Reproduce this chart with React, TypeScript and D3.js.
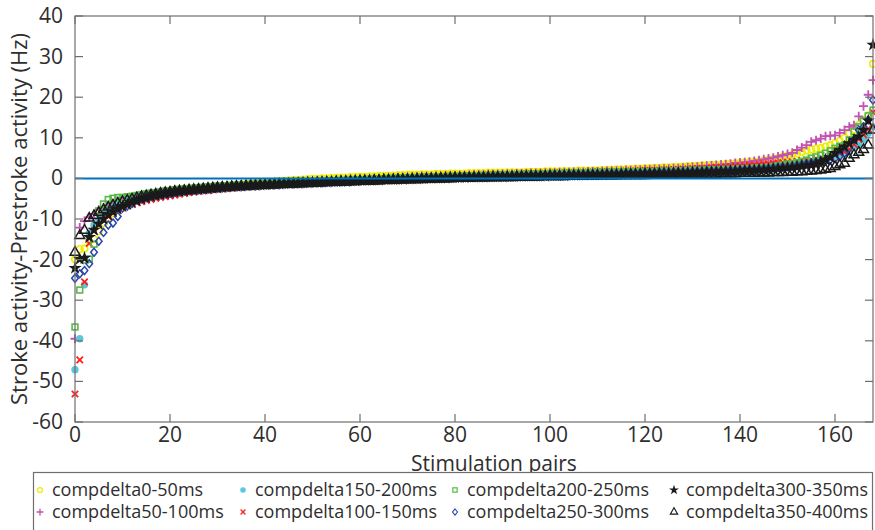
import React from 'react';
import * as d3 from 'd3';

// sorted differences per stimulation pair, one list per delay window
const y0_50 = [
  -19.9,-17.4,-17.3,-15.5,-14.9,-13.0,-11.0,-9.8,-8.6,-7.6,
  -6.9,-6.3,-5.8,-5.3,-4.9,-4.5,-4.2,-3.9,-3.6,-3.4,
  -3.2,-3.0,-2.9,-2.7,-2.6,-2.5,-2.4,-2.3,-2.2,-2.1,
  -2.0,-1.9,-1.8,-1.7,-1.6,-1.5,-1.4,-1.3,-1.2,-1.1,
  -1.0,-0.9,-0.8,-0.7,-0.6,-0.5,-0.4,-0.4,-0.3,-0.2,
  -0.1,-0.1,0.0,0.0,0.1,0.1,0.2,0.2,0.3,0.3,
  0.4,0.4,0.5,0.5,0.6,0.6,0.7,0.7,0.8,0.8,
  0.9,0.9,0.9,1.0,1.0,1.0,1.1,1.1,1.1,1.2,
  1.2,1.2,1.2,1.3,1.3,1.3,1.3,1.4,1.4,1.4,
  1.4,1.5,1.5,1.5,1.5,1.6,1.6,1.6,1.6,1.7,
  1.7,1.7,1.7,1.8,1.8,1.8,1.9,1.9,1.9,2.0,
  2.0,2.0,2.1,2.1,2.2,2.2,2.3,2.3,2.4,2.4,
  2.5,2.5,2.6,2.6,2.7,2.7,2.8,2.8,2.9,3.0,
  3.0,3.1,3.2,3.2,3.3,3.3,3.4,3.5,3.6,3.7,
  3.8,3.9,4.0,4.1,4.2,4.4,4.6,4.8,5.0,5.3,
  5.6,5.8,6.1,6.5,6.9,7.1,7.3,7.5,7.8,8.2,
  8.7,9.3,10.0,11.1,12.0,13.2,14.3,15.5,28.2
];
const y50_100 = [
  -39.5,-12.1,-10.5,-9.6,-8.8,-7.8,-7.2,-6.6,-6.1,-5.7,
  -5.3,-5.0,-4.7,-4.4,-4.2,-4.0,-3.8,-3.6,-3.4,-3.2,
  -3.1,-2.9,-2.8,-2.7,-2.6,-2.5,-2.4,-2.3,-2.2,-2.1,
  -2.0,-1.9,-1.9,-1.8,-1.7,-1.6,-1.6,-1.5,-1.4,-1.4,
  -1.3,-1.2,-1.2,-1.1,-1.0,-1.0,-0.9,-0.8,-0.8,-0.7,
  -0.7,-0.6,-0.6,-0.5,-0.5,-0.4,-0.4,-0.3,-0.3,-0.2,
  -0.2,-0.1,-0.1,0.0,0.0,0.1,0.1,0.2,0.2,0.3,
  0.3,0.4,0.4,0.5,0.5,0.5,0.6,0.6,0.7,0.7,
  0.7,0.8,0.8,0.8,0.9,0.9,0.9,1.0,1.0,1.0,
  1.1,1.1,1.1,1.2,1.2,1.2,1.3,1.3,1.3,1.4,
  1.4,1.4,1.5,1.5,1.5,1.6,1.6,1.6,1.7,1.7,
  1.7,1.8,1.8,1.9,1.9,1.9,2.0,2.0,2.1,2.1,
  2.2,2.2,2.3,2.3,2.4,2.4,2.5,2.5,2.6,2.7,
  2.8,2.9,3.0,3.1,3.2,3.3,3.4,3.5,3.6,3.8,
  3.9,4.0,4.1,4.3,4.5,4.7,4.9,5.1,5.4,5.7,
  6.0,6.3,7.0,7.6,8.2,9.0,9.4,9.8,10.4,10.5,
  10.6,11.2,11.9,12.7,13.1,15.3,17.8,20.6,24.2
];
const y150_200 = [
  -47.1,-39.5,-26.2,-13.5,-11.5,-10.0,-8.8,-7.9,-7.1,-6.5,
  -6.0,-5.5,-5.1,-4.8,-4.5,-4.2,-4.0,-3.8,-3.6,-3.4,
  -3.2,-3.1,-2.9,-2.8,-2.7,-2.6,-2.5,-2.4,-2.3,-2.2,
  -2.1,-2.0,-2.0,-1.9,-1.8,-1.8,-1.7,-1.6,-1.6,-1.5,
  -1.5,-1.4,-1.4,-1.3,-1.3,-1.2,-1.2,-1.1,-1.1,-1.0,
  -1.0,-0.9,-0.9,-0.8,-0.8,-0.7,-0.7,-0.6,-0.6,-0.5,
  -0.5,-0.4,-0.4,-0.3,-0.3,-0.2,-0.2,-0.1,-0.1,0.0,
  0.0,0.1,0.1,0.1,0.2,0.2,0.2,0.3,0.3,0.3,
  0.4,0.4,0.4,0.5,0.5,0.5,0.5,0.6,0.6,0.6,
  0.6,0.7,0.7,0.7,0.7,0.8,0.8,0.8,0.8,0.9,
  0.9,0.9,0.9,1.0,1.0,1.0,1.0,1.1,1.1,1.1,
  1.1,1.2,1.2,1.2,1.3,1.3,1.3,1.4,1.4,1.4,
  1.5,1.5,1.5,1.6,1.6,1.6,1.7,1.7,1.8,1.8,
  1.9,1.9,2.0,2.0,2.1,2.1,2.2,2.3,2.3,2.4,
  2.5,2.5,2.6,2.7,2.8,2.9,3.0,3.1,3.2,3.3,
  3.4,3.5,3.7,3.8,4.0,4.2,4.4,4.6,4.9,5.2,
  5.5,5.8,6.2,6.6,7.8,8.2,9.5,11.1,12.7
];
const y100_150 = [
  -53.1,-44.7,-25.5,-16.0,-13.0,-11.5,-10.3,-9.4,-8.6,-7.9,
  -7.3,-6.8,-6.4,-6.0,-5.7,-5.4,-5.2,-4.9,-4.7,-4.5,
  -4.3,-4.1,-3.9,-3.7,-3.5,-3.4,-3.2,-3.1,-3.0,-2.8,
  -2.7,-2.6,-2.5,-2.4,-2.3,-2.2,-2.1,-2.0,-1.9,-1.8,
  -1.7,-1.7,-1.6,-1.5,-1.4,-1.4,-1.3,-1.2,-1.2,-1.1,
  -1.0,-1.0,-0.9,-0.8,-0.8,-0.7,-0.6,-0.6,-0.5,-0.5,
  -0.4,-0.4,-0.3,-0.2,-0.2,-0.1,-0.1,0.0,0.0,0.1,
  0.1,0.2,0.2,0.3,0.3,0.3,0.4,0.4,0.5,0.5,
  0.5,0.6,0.6,0.6,0.7,0.7,0.8,0.8,0.8,0.9,
  0.9,0.9,1.0,1.0,1.0,1.1,1.1,1.1,1.2,1.2,
  1.2,1.3,1.3,1.3,1.4,1.4,1.4,1.5,1.5,1.5,
  1.6,1.6,1.6,1.7,1.7,1.7,1.8,1.8,1.8,1.9,
  1.9,2.0,2.0,2.0,2.1,2.1,2.2,2.2,2.3,2.3,
  2.4,2.4,2.5,2.5,2.6,2.7,2.7,2.8,2.9,3.0,
  3.0,3.1,3.2,3.3,3.4,3.5,3.6,3.7,3.8,3.9,
  4.0,4.1,4.2,4.4,4.5,4.6,4.8,5.0,5.2,5.5,
  5.8,6.2,6.6,7.2,8.4,9.6,10.8,12.2,16.3
];
const y200_250 = [
  -36.6,-27.5,-20.1,-19.9,-16.2,-8.0,-6.3,-5.2,-4.9,-4.7,
  -4.7,-4.5,-4.4,-4.2,-4.0,-3.8,-3.6,-3.5,-3.3,-3.1,
  -3.0,-2.8,-2.7,-2.6,-2.5,-2.4,-2.3,-2.2,-2.1,-2.0,
  -1.9,-1.9,-1.8,-1.7,-1.7,-1.6,-1.5,-1.5,-1.4,-1.4,
  -1.3,-1.3,-1.2,-1.2,-1.1,-1.1,-1.0,-1.0,-0.9,-0.9,
  -0.8,-0.8,-0.7,-0.7,-0.6,-0.6,-0.5,-0.5,-0.4,-0.4,
  -0.3,-0.3,-0.2,-0.2,-0.1,-0.1,0.0,0.0,0.1,0.1,
  0.2,0.2,0.2,0.3,0.3,0.3,0.4,0.4,0.4,0.5,
  0.5,0.5,0.6,0.6,0.6,0.7,0.7,0.7,0.8,0.8,
  0.8,0.9,0.9,0.9,1.0,1.0,1.0,1.1,1.1,1.1,
  1.2,1.2,1.2,1.3,1.3,1.3,1.4,1.4,1.4,1.5,
  1.5,1.5,1.5,1.5,1.6,1.6,1.6,1.6,1.6,1.7,
  1.7,1.7,1.7,1.8,1.8,1.8,1.9,1.9,1.9,2.0,
  2.0,2.0,2.0,2.1,2.1,2.1,2.2,2.2,2.2,2.3,
  2.3,2.4,2.4,2.5,2.5,2.6,2.7,2.9,3.1,3.3,
  3.5,3.7,3.9,4.2,4.5,5.0,5.3,5.7,6.2,6.8,
  7.4,7.9,8.2,9.5,11.5,12.7,14.2,15.4,16.8
];
const y250_300 = [
  -24.6,-23.5,-22.7,-21.0,-18.2,-15.5,-13.3,-11.5,-11.0,-9.4,
  -7.3,-6.8,-6.2,-5.3,-5.0,-4.7,-4.4,-4.2,-4.0,-3.8,
  -3.6,-3.4,-3.3,-3.1,-3.0,-2.9,-2.8,-2.7,-2.6,-2.5,
  -2.4,-2.3,-2.2,-2.1,-2.0,-2.0,-1.9,-1.8,-1.8,-1.7,
  -1.6,-1.6,-1.5,-1.5,-1.4,-1.3,-1.3,-1.2,-1.2,-1.1,
  -1.1,-1.0,-1.0,-0.9,-0.9,-0.8,-0.8,-0.7,-0.7,-0.6,
  -0.6,-0.5,-0.5,-0.4,-0.4,-0.3,-0.3,-0.2,-0.2,-0.1,
  -0.1,0.0,0.0,0.1,0.1,0.1,0.2,0.2,0.2,0.3,
  0.3,0.3,0.4,0.4,0.4,0.5,0.5,0.5,0.6,0.6,
  0.6,0.6,0.7,0.7,0.7,0.7,0.8,0.8,0.8,0.8,
  0.9,0.9,0.9,0.9,1.0,1.0,1.0,1.0,1.1,1.1,
  1.1,1.1,1.2,1.2,1.2,1.2,1.3,1.3,1.3,1.3,
  1.4,1.4,1.4,1.5,1.5,1.5,1.5,1.6,1.6,1.6,
  1.7,1.7,1.7,1.8,1.8,1.8,1.9,1.9,2.0,2.0,
  2.1,2.1,2.2,2.2,2.3,2.4,2.5,2.6,2.7,2.8,
  2.9,3.0,3.2,3.4,3.6,3.8,4.0,4.1,4.3,4.6,
  4.9,5.4,6.2,7.5,9.5,11.9,12.7,14.4,19.3
];
const y300_350 = [
  -22.1,-19.9,-19.6,-14.5,-12.7,-11.2,-10.0,-9.0,-8.2,-7.5,
  -6.9,-6.4,-5.9,-5.5,-5.1,-4.8,-4.5,-4.2,-4.0,-3.8,
  -3.6,-3.4,-3.2,-3.1,-2.9,-2.8,-2.7,-2.6,-2.5,-2.4,
  -2.3,-2.2,-2.1,-2.0,-1.9,-1.9,-1.8,-1.7,-1.7,-1.6,
  -1.5,-1.5,-1.4,-1.4,-1.3,-1.3,-1.2,-1.2,-1.1,-1.1,
  -1.0,-1.0,-0.9,-0.9,-0.8,-0.8,-0.7,-0.7,-0.6,-0.6,
  -0.5,-0.5,-0.5,-0.4,-0.4,-0.3,-0.3,-0.3,-0.2,-0.2,
  -0.1,-0.1,-0.1,0.0,0.0,0.0,0.1,0.1,0.1,0.2,
  0.2,0.2,0.2,0.3,0.3,0.3,0.3,0.4,0.4,0.4,
  0.4,0.5,0.5,0.5,0.5,0.6,0.6,0.6,0.6,0.6,
  0.7,0.7,0.7,0.7,0.8,0.8,0.8,0.8,0.9,0.9,
  0.9,0.9,1.0,1.0,1.0,1.0,1.1,1.1,1.1,1.1,
  1.2,1.2,1.2,1.3,1.3,1.3,1.3,1.4,1.4,1.4,
  1.5,1.5,1.5,1.6,1.6,1.6,1.7,1.7,1.8,1.8,
  1.9,1.9,2.0,2.0,2.1,2.1,2.2,2.3,2.4,2.5,
  2.6,2.7,2.8,3.0,3.2,3.3,3.6,4.1,4.6,5.2,
  6.2,7.0,7.8,8.6,9.5,10.3,11.9,14.2,32.9
];
const y350_400 = [
  -18.2,-14.1,-12.8,-9.8,-9.2,-8.4,-7.7,-7.1,-6.6,-6.1,
  -5.7,-5.4,-5.1,-4.8,-4.5,-4.3,-4.1,-3.9,-3.7,-3.5,
  -3.4,-3.2,-3.1,-3.0,-2.9,-2.8,-2.7,-2.6,-2.5,-2.4,
  -2.3,-2.2,-2.2,-2.1,-2.0,-2.0,-1.9,-1.8,-1.8,-1.7,
  -1.7,-1.6,-1.6,-1.5,-1.5,-1.4,-1.4,-1.3,-1.3,-1.2,
  -1.2,-1.1,-1.1,-1.0,-1.0,-0.9,-0.9,-0.9,-0.8,-0.8,
  -0.7,-0.7,-0.7,-0.6,-0.6,-0.5,-0.5,-0.5,-0.4,-0.4,
  -0.4,-0.3,-0.3,-0.3,-0.2,-0.2,-0.2,-0.1,-0.1,-0.1,
  0.0,0.0,0.0,0.0,0.1,0.1,0.1,0.1,0.2,0.2,
  0.2,0.2,0.2,0.3,0.3,0.3,0.3,0.3,0.4,0.4,
  0.4,0.4,0.4,0.4,0.5,0.5,0.5,0.5,0.5,0.5,
  0.6,0.6,0.6,0.6,0.6,0.7,0.7,0.7,0.7,0.7,
  0.7,0.8,0.8,0.8,0.8,0.8,0.9,0.9,0.9,0.9,
  0.9,1.0,1.0,1.0,1.0,1.0,1.1,1.1,1.1,1.1,
  1.2,1.2,1.2,1.2,1.3,1.3,1.3,1.4,1.4,1.4,
  1.5,1.5,1.6,1.6,1.7,1.8,1.9,2.0,2.2,2.4,
  2.9,3.3,3.7,4.9,5.8,6.4,7.1,8.2,11.9
];

const yTicks = [40, 30, 20, 10, 0, -10, -20, -30, -40, -50, -60];
const xTicks = [0, 20, 40, 60, 80, 100, 120, 140, 160];

// plot order follows legend (column-major)
const series = [
  { name: 'compdelta0-50ms', values: y0_50, marker: 'circle', color: '#eded00' },
  { name: 'compdelta50-100ms', values: y50_100, marker: 'plus', color: '#c152b2' },
  { name: 'compdelta150-200ms', values: y150_200, marker: 'dot', color: '#5cc6dc' },
  { name: 'compdelta100-150ms', values: y100_150, marker: 'x', color: '#ff1f1f' },
  { name: 'compdelta200-250ms', values: y200_250, marker: 'square', color: '#58b848' },
  { name: 'compdelta250-300ms', values: y250_300, marker: 'diamond', color: '#2a45a8' },
  { name: 'compdelta300-350ms', values: y300_350, marker: 'star', color: '#1a1a1a' },
  { name: 'compdelta350-400ms', values: y350_400, marker: 'triangle', color: '#1a1a1a' },
];

const starPath = d3.symbol().type(d3.symbolStar).size(55)();
const triPath = d3.symbol().type(d3.symbolTriangle).size(42)();

function Marker({ kind, color, cx, cy, s = 1 }) {
  const t = `translate(${cx},${cy}) scale(${s})`;
  switch (kind) {
    case 'circle':
      return <circle transform={t} r={3.3} fill="none" stroke={color} strokeWidth={1.7} />;
    case 'dot':
      return <circle transform={t} r={3.7} fill={color} />;
    case 'plus':
      return <path transform={t} d="M-4.5,0H4.5M0,-4.5V4.5" stroke={color} strokeWidth={1.8} />;
    case 'x':
      return <path transform={t} d="M-3.2,-3.2L3.2,3.2M-3.2,3.2L3.2,-3.2" stroke={color} strokeWidth={1.8} />;
    case 'square':
      return <rect transform={t} x={-2.9} y={-2.9} width={5.8} height={5.8} fill="none" stroke={color} strokeWidth={1.6} />;
    case 'diamond':
      return <path transform={t} d="M0,-4L3.3,0L0,4L-3.3,0Z" fill="none" stroke={color} strokeWidth={1.5} />;
    case 'star':
      return <path transform={t} d={starPath} fill={color} />;
    default:
      return <path transform={t} d={triPath} fill="none" stroke={color} strokeWidth={1.5} />;
  }
}

export default function App() {
  const left = 75, right = 873, top = 16, bottom = 422;
  const x = d3.scaleLinear().domain([0, 168]).range([left, right]);
  const y = d3.scaleLinear().domain([-60, 40]).range([bottom, top]);
  const font = 'Open Sans, Noto Sans, sans-serif';
  const axisCol = '#6e6e6e';
  const textCol = '#2e2e2e';

  const legendCols = [40, 243, 455, 674];
  const legendRows = [490, 512];
  // legend is column-major: item i goes to column floor(i/2), row i%2
  return (
    <svg width={875} height={530} style={{ position: 'absolute', left: 0, top: 0, background: '#fff' }} fontFamily={font}>
      <rect x={0} y={0} width={875} height={530} fill="#fff" />
      {series.map((s) => (
        <g key={s.name}>
          {s.values.map((v, i) => (
            <Marker key={i} kind={s.marker} color={s.color} cx={x(i)} cy={y(v)} />
          ))}
        </g>
      ))}
      <line x1={left} x2={right} y1={y(0)} y2={y(0)} stroke="#0072bd" strokeWidth={2} />

      {/* box + ticks */}
      <rect x={left} y={top} width={right - left} height={bottom - top} fill="none" stroke={axisCol} strokeWidth={1.2} />
      {xTicks.map((t) => (
        <g key={'x' + t}>
          <line x1={x(t)} x2={x(t)} y1={bottom} y2={bottom - 8} stroke={axisCol} strokeWidth={1.2} />
          <line x1={x(t)} x2={x(t)} y1={top} y2={top + 8} stroke={axisCol} strokeWidth={1.2} />
          <text x={x(t)} y={bottom + 20} fontSize={21} fill={textCol} textAnchor="middle">{t}</text>
        </g>
      ))}
      {yTicks.map((t) => (
        <g key={'y' + t}>
          <line x1={left} x2={left + 8} y1={y(t)} y2={y(t)} stroke={axisCol} strokeWidth={1.2} />
          <line x1={right} x2={right - 8} y1={y(t)} y2={y(t)} stroke={axisCol} strokeWidth={1.2} />
          <text x={63} y={y(t) + 7} fontSize={21} fill={textCol} textAnchor="end">{t}</text>
        </g>
      ))}
      <text x={494} y={471} fontSize={21} fill={textCol} textAnchor="middle">Stimulation pairs</text>
      <text transform={`translate(27,${(top + bottom) / 2}) rotate(-90)`} fontSize={22} fill={textCol} textAnchor="middle">
        Stroke activity-Prestroke activity (Hz)
      </text>

      {/* legend */}
      <rect x={33.5} y={472.5} width={839} height={70} fill="#fff" stroke={axisCol} strokeWidth={1.2} />
      {series.map((s, i) => {
        const cx = legendCols[Math.floor(i / 2)];
        const cy = legendRows[i % 2];
        return (
          <g key={'lg' + i}>
            <Marker kind={s.marker} color={s.color} cx={cx} cy={cy} s={0.75} />
            <text x={cx + 12} y={cy + 6} fontSize={18} fill={textCol}>{s.name}</text>
          </g>
        );
      })}
    </svg>
  );
}
